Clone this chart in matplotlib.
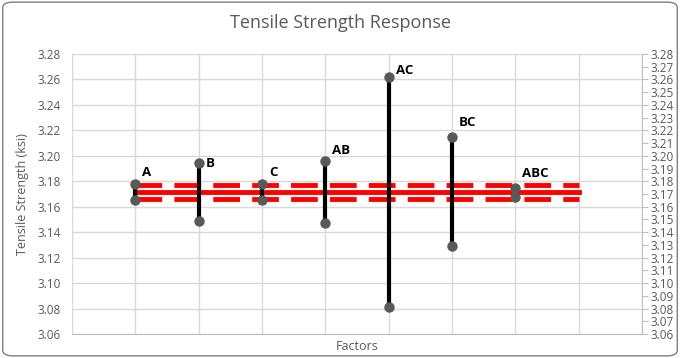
import matplotlib.pyplot as plt
from matplotlib.patches import FancyBboxPatch
import numpy as np

# ====== DATOS ======
factores = ['A', 'B', 'C', 'AB', 'AC', 'BC', 'ABC']
resp_alto = [3.178, 3.194, 3.178, 3.196, 3.262, 3.215, 3.175]
resp_bajo = [3.165, 3.149, 3.165, 3.147, 3.081, 3.129, 3.168]
media = 3.1715
limite_sup = 3.177
limite_inf = 3.166

# desplazamiento de etiquetas (px) - solo estilo
etiq_dy = [11, 0, 11, 10, 6, 14, 14]

plt.rcParams['font.family'] = ['Open Sans', 'DejaVu Sans']
gris = '#595959'

fig = plt.figure(figsize=(6.8, 3.58), dpi=100)
borde = FancyBboxPatch((0.004, 0.006), 0.992, 0.988, boxstyle='round,pad=0,rounding_size=0.015',
                       transform=fig.transFigure, fill=False, edgecolor='#7f7f7f', linewidth=1.0)
fig.patches.append(borde)

ax = fig.add_axes([72 / 680, 24 / 358, 570 / 680, 280 / 358])
x = np.arange(1, len(factores) + 1)

# líneas de referencia
ax.plot([1, 8], [media, media], color='#ff0000', linewidth=3.5, zorder=2)
for lim in (limite_sup, limite_inf):
    ax.plot([1, 8], [lim, lim], color='#ff0000', linewidth=3.5, linestyle=(0, (5.5, 2.5)), zorder=2)

# barras de rango
for xi, hi, lo, nombre, dy in zip(x, resp_alto, resp_bajo, factores, etiq_dy):
    ax.plot([xi, xi], [lo, hi], color='black', linewidth=3, zorder=3)
    ax.plot([xi, xi], [lo, hi], linestyle='none', marker='o', markersize=6.5,
            color=gris, zorder=4)
    ax.annotate(nombre, (xi, hi), xytext=(5, dy * 0.72), textcoords='offset points',
                ha='left', va='center', fontsize=9.5, fontweight='bold', color='black')

ax.set_xlim(0, 9)
ax.set_ylim(3.06, 3.28)
ax.set_xticks(np.arange(0, 10))
ax.set_xticklabels([])
ax.set_yticks(np.arange(3.06, 3.2801, 0.02))
ax.set_yticklabels([f'{v:.2f}' for v in np.arange(3.06, 3.2801, 0.02)])
ax.tick_params(axis='y', length=0, labelsize=8.5, labelcolor=gris, pad=8)
ax.tick_params(axis='x', length=0)
ax.grid(True, color='#d9d9d9', linewidth=1)
ax.set_axisbelow(True)
for s in ['top', 'left', 'right']:
    ax.spines[s].set_visible(False)
ax.spines['bottom'].set_color('#bfbfbf')

# eje derecho
ax2 = ax.twinx()
ax2.set_ylim(3.06, 3.28)
ax2.set_yticks(np.arange(3.06, 3.2801, 0.01))
ax2.set_yticklabels([f'{v:.2f}' for v in np.arange(3.06, 3.2801, 0.01)])
ax2.tick_params(axis='y', length=4, color='#bfbfbf', labelsize=8.5, labelcolor=gris, pad=2)
for s in ['top', 'left', 'bottom']:
    ax2.spines[s].set_visible(False)
ax2.spines['right'].set_color('#bfbfbf')

ax.set_ylabel('Tensile Strength (ksi)', fontsize=9, color=gris, labelpad=6)
fig.text(357 / 680, 1 - 346 / 358, 'Factors', ha='center', va='center',
         fontsize=9, color=gris)
fig.text(0.5, 0.935, 'Tensile Strength Response', ha='center', va='center',
         fontsize=13, color=gris)

plt.savefig('out.png', dpi=100)
